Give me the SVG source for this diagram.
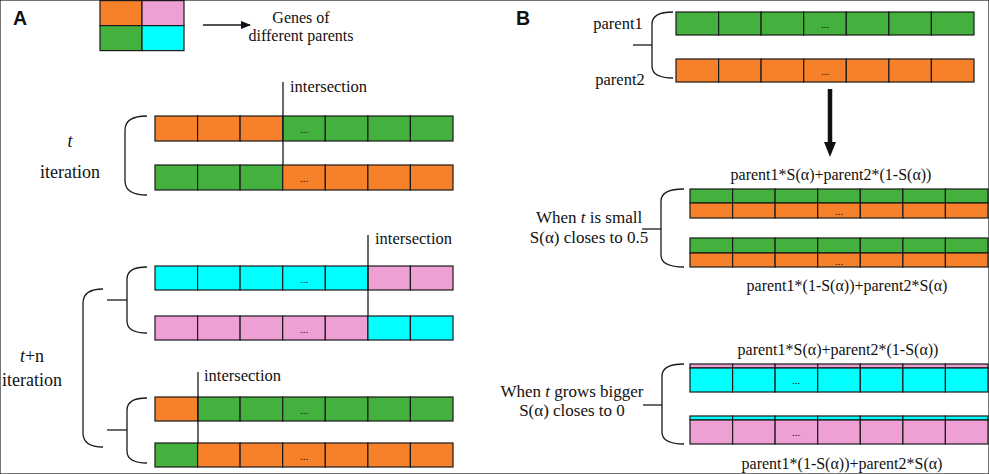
<svg xmlns="http://www.w3.org/2000/svg" width="989" height="474" viewBox="0 0 989 474">
<defs>
<style>
.o{fill:#F7802A}.p{fill:#EE9FD4}.g{fill:#44B13E}.c{fill:#00FFFF}
rect{stroke:#1a1a1a;stroke-width:1.2}
.t{font-family:"Liberation Serif","Times New Roman",serif;fill:#111}
.d{font-family:"Liberation Serif",serif;font-size:11px;fill:#111;text-anchor:middle}
.br{fill:none;stroke:#1a1a1a;stroke-width:1.3}
.ln{stroke:#1a1a1a;stroke-width:1.3;fill:none}
.h{font-family:"Liberation Sans",Arial,sans-serif;font-weight:bold;font-size:19.5px;fill:#111}
</style>
<marker id="ah" markerWidth="10" markerHeight="8" refX="9" refY="4" orient="auto" markerUnits="userSpaceOnUse">
<path d="M0,0 L10,4 L0,8 Z" fill="#111"/>
</marker>
</defs>
<rect x="0" y="0" width="989" height="474" fill="#fff" stroke="none"/>

<text class="h" x="13" y="25">A</text>
<text class="h" x="516" y="25">B</text>

<g id="legend">
<rect class="o" x="100" y="0.6" width="42" height="25"/>
<rect class="p" x="142" y="0.6" width="42" height="25"/>
<rect class="g" x="100" y="25.6" width="42" height="25"/>
<rect class="c" x="142" y="25.6" width="42" height="25"/>
<text class="t" x="301" y="23" font-size="16" text-anchor="middle">Genes of</text>
<text class="t" x="301" y="41" font-size="16" text-anchor="middle">different parents</text>
</g>

<g id="rowA1">
<rect class="o" x="155" y="116" width="42.6" height="25"/>
<rect class="o" x="197.6" y="116" width="42.5" height="25"/>
<rect class="o" x="240.1" y="116" width="42.6" height="25"/>
<rect class="g" x="282.7" y="116" width="42.6" height="25"/>
<rect class="g" x="325.3" y="116" width="42.6" height="25"/>
<rect class="g" x="367.9" y="116" width="42.5" height="25"/>
<rect class="g" x="410.4" y="116" width="42.6" height="25"/>
<text class="d" x="304" y="133">...</text>
</g>
<g id="rowA2">
<rect class="g" x="155" y="165" width="42.6" height="25"/>
<rect class="g" x="197.6" y="165" width="42.5" height="25"/>
<rect class="g" x="240.1" y="165" width="42.6" height="25"/>
<rect class="o" x="282.7" y="165" width="42.6" height="25"/>
<rect class="o" x="325.3" y="165" width="42.6" height="25"/>
<rect class="o" x="367.9" y="165" width="42.5" height="25"/>
<rect class="o" x="410.4" y="165" width="42.6" height="25"/>
<text class="d" x="304" y="182">...</text>
</g>
<g id="rowA3">
<rect class="c" x="155" y="266" width="42.6" height="24"/>
<rect class="c" x="197.6" y="266" width="42.5" height="24"/>
<rect class="c" x="240.1" y="266" width="42.6" height="24"/>
<rect class="c" x="282.7" y="266" width="42.6" height="24"/>
<rect class="c" x="325.3" y="266" width="42.6" height="24"/>
<rect class="p" x="367.9" y="266" width="42.5" height="24"/>
<rect class="p" x="410.4" y="266" width="42.6" height="24"/>
<text class="d" x="304" y="283">...</text>
</g>
<g id="rowA4">
<rect class="p" x="155" y="316" width="42.6" height="24"/>
<rect class="p" x="197.6" y="316" width="42.5" height="24"/>
<rect class="p" x="240.1" y="316" width="42.6" height="24"/>
<rect class="p" x="282.7" y="316" width="42.6" height="24"/>
<rect class="p" x="325.3" y="316" width="42.6" height="24"/>
<rect class="c" x="367.9" y="316" width="42.5" height="24"/>
<rect class="c" x="410.4" y="316" width="42.6" height="24"/>
<text class="d" x="304" y="333">...</text>
</g>
<g id="rowA5">
<rect class="o" x="155" y="397" width="42.6" height="24"/>
<rect class="g" x="197.6" y="397" width="42.5" height="24"/>
<rect class="g" x="240.1" y="397" width="42.6" height="24"/>
<rect class="g" x="282.7" y="397" width="42.6" height="24"/>
<rect class="g" x="325.3" y="397" width="42.6" height="24"/>
<rect class="g" x="367.9" y="397" width="42.5" height="24"/>
<rect class="g" x="410.4" y="397" width="42.6" height="24"/>
<text class="d" x="304" y="414">...</text>
</g>
<g id="rowA6">
<rect class="g" x="155" y="443" width="42.6" height="24"/>
<rect class="o" x="197.6" y="443" width="42.5" height="24"/>
<rect class="o" x="240.1" y="443" width="42.6" height="24"/>
<rect class="o" x="282.7" y="443" width="42.6" height="24"/>
<rect class="o" x="325.3" y="443" width="42.6" height="24"/>
<rect class="o" x="367.9" y="443" width="42.5" height="24"/>
<rect class="o" x="410.4" y="443" width="42.6" height="24"/>
<text class="d" x="304" y="460">...</text>
</g>

<g id="labelsA">
<text class="t" x="70" y="147" font-size="18" font-style="italic" text-anchor="middle">t</text>
<text class="t" x="70" y="178" font-size="18" text-anchor="middle">iteration</text>
<text class="t" x="32" y="362" font-size="18" text-anchor="middle"><tspan font-style="italic">t</tspan>+n</text>
<text class="t" x="32" y="386" font-size="18" text-anchor="middle">iteration</text>
<text class="t" x="290" y="92" font-size="16.5">intersection</text>
<text class="t" x="375" y="244" font-size="16.5">intersection</text>
<text class="t" x="204" y="381" font-size="16.5">intersection</text>
</g>

<g id="rowB1">
<rect class="g" x="676" y="12" width="42.6" height="23"/>
<rect class="g" x="718.6" y="12" width="42.5" height="23"/>
<rect class="g" x="761.1" y="12" width="42.6" height="23"/>
<rect class="g" x="803.7" y="12" width="42.6" height="23"/>
<rect class="g" x="846.3" y="12" width="42.6" height="23"/>
<rect class="g" x="888.9" y="12" width="42.5" height="23"/>
<rect class="g" x="931.4" y="12" width="42.6" height="23"/>
<text class="d" x="825" y="28">...</text>
</g>
<g id="rowB2">
<rect class="o" x="676" y="59" width="42.6" height="23"/>
<rect class="o" x="718.6" y="59" width="42.5" height="23"/>
<rect class="o" x="761.1" y="59" width="42.6" height="23"/>
<rect class="o" x="803.7" y="59" width="42.6" height="23"/>
<rect class="o" x="846.3" y="59" width="42.6" height="23"/>
<rect class="o" x="888.9" y="59" width="42.5" height="23"/>
<rect class="o" x="931.4" y="59" width="42.6" height="23"/>
<text class="d" x="825" y="75">...</text>
</g>
<g id="rowB3">
<rect class="g" x="690" y="189" width="42.6" height="14"/>
<rect class="g" x="732.6" y="189" width="42.5" height="14"/>
<rect class="g" x="775.1" y="189" width="42.6" height="14"/>
<rect class="g" x="817.7" y="189" width="42.6" height="14"/>
<rect class="g" x="860.3" y="189" width="42.6" height="14"/>
<rect class="g" x="902.9" y="189" width="42.5" height="14"/>
<rect class="g" x="945.4" y="189" width="42.6" height="14"/>
<rect class="o" x="690" y="203" width="42.6" height="15"/>
<rect class="o" x="732.6" y="203" width="42.5" height="15"/>
<rect class="o" x="775.1" y="203" width="42.6" height="15"/>
<rect class="o" x="817.7" y="203" width="42.6" height="15"/>
<rect class="o" x="860.3" y="203" width="42.6" height="15"/>
<rect class="o" x="902.9" y="203" width="42.5" height="15"/>
<rect class="o" x="945.4" y="203" width="42.6" height="15"/>
<text class="d" x="839" y="215">...</text>
</g>
<g id="rowB4">
<rect class="g" x="690" y="238" width="42.6" height="15"/>
<rect class="g" x="732.6" y="238" width="42.5" height="15"/>
<rect class="g" x="775.1" y="238" width="42.6" height="15"/>
<rect class="g" x="817.7" y="238" width="42.6" height="15"/>
<rect class="g" x="860.3" y="238" width="42.6" height="15"/>
<rect class="g" x="902.9" y="238" width="42.5" height="15"/>
<rect class="g" x="945.4" y="238" width="42.6" height="15"/>
<rect class="o" x="690" y="253" width="42.6" height="14"/>
<rect class="o" x="732.6" y="253" width="42.5" height="14"/>
<rect class="o" x="775.1" y="253" width="42.6" height="14"/>
<rect class="o" x="817.7" y="253" width="42.6" height="14"/>
<rect class="o" x="860.3" y="253" width="42.6" height="14"/>
<rect class="o" x="902.9" y="253" width="42.5" height="14"/>
<rect class="o" x="945.4" y="253" width="42.6" height="14"/>
<text class="d" x="839" y="265">...</text>
</g>
<g id="rowB5">
<rect class="p" x="690" y="364" width="42.6" height="4"/>
<rect class="p" x="732.6" y="364" width="42.5" height="4"/>
<rect class="p" x="775.1" y="364" width="42.6" height="4"/>
<rect class="p" x="817.7" y="364" width="42.6" height="4"/>
<rect class="p" x="860.3" y="364" width="42.6" height="4"/>
<rect class="p" x="902.9" y="364" width="42.5" height="4"/>
<rect class="p" x="945.4" y="364" width="42.6" height="4"/>
<rect class="c" x="690" y="368" width="42.6" height="24"/>
<rect class="c" x="732.6" y="368" width="42.5" height="24"/>
<rect class="c" x="775.1" y="368" width="42.6" height="24"/>
<rect class="c" x="817.7" y="368" width="42.6" height="24"/>
<rect class="c" x="860.3" y="368" width="42.6" height="24"/>
<rect class="c" x="902.9" y="368" width="42.5" height="24"/>
<rect class="c" x="945.4" y="368" width="42.6" height="24"/>
<text class="d" x="796" y="384">...</text>
</g>
<g id="rowB6">
<rect class="c" x="690" y="416" width="42.6" height="4"/>
<rect class="c" x="732.6" y="416" width="42.5" height="4"/>
<rect class="c" x="775.1" y="416" width="42.6" height="4"/>
<rect class="c" x="817.7" y="416" width="42.6" height="4"/>
<rect class="c" x="860.3" y="416" width="42.6" height="4"/>
<rect class="c" x="902.9" y="416" width="42.5" height="4"/>
<rect class="c" x="945.4" y="416" width="42.6" height="4"/>
<rect class="p" x="690" y="420" width="42.6" height="24"/>
<rect class="p" x="732.6" y="420" width="42.5" height="24"/>
<rect class="p" x="775.1" y="420" width="42.6" height="24"/>
<rect class="p" x="817.7" y="420" width="42.6" height="24"/>
<rect class="p" x="860.3" y="420" width="42.6" height="24"/>
<rect class="p" x="902.9" y="420" width="42.5" height="24"/>
<rect class="p" x="945.4" y="420" width="42.6" height="24"/>
<text class="d" x="796" y="436">...</text>
</g>

<g id="labelsB">
<text class="t" x="618" y="29" font-size="16.5" text-anchor="middle">parent1</text>
<text class="t" x="620" y="85" font-size="16.5" text-anchor="middle">parent2</text>
<text class="t" x="831" y="180" font-size="16" text-anchor="middle">parent1*S(α)+parent2*(1-S(α))</text>
<text class="t" x="847" y="291" font-size="16" text-anchor="middle">parent1*(1-S(α))+parent2*S(α)</text>
<text class="t" x="838" y="355" font-size="16" text-anchor="middle">parent1*S(α)+parent2*(1-S(α))</text>
<text class="t" x="842" y="469" font-size="16" text-anchor="middle">parent1*(1-S(α))+parent2*S(α)</text>
<text class="t" x="589" y="223" font-size="17" text-anchor="middle">When <tspan font-style="italic">t</tspan> is small</text>
<text class="t" x="589" y="243" font-size="17" text-anchor="middle">S(α) closes to 0.5</text>
<text class="t" x="572" y="397" font-size="17" text-anchor="middle">When <tspan font-style="italic">t</tspan> grows bigger</text>
<text class="t" x="572" y="416" font-size="17" text-anchor="middle">S(α) closes to 0</text>
</g>

<g id="connectors">
<line class="ln" x1="203" y1="25" x2="250" y2="25" marker-end="url(#ah)"/>
<line class="ln" x1="283" y1="82" x2="283" y2="165"/>
<line class="ln" x1="368" y1="235" x2="368" y2="316"/>
<line class="ln" x1="198" y1="372" x2="198" y2="443"/>
<path class="br" d="M147,116 Q125,116 125,130 L125,181 Q125,195 147,195"/>
<path class="br" d="M147,267 Q127,267 127,279 L127,321 Q127,333 147,333"/>
<line class="ln" x1="107" y1="300" x2="127" y2="300"/>
<path class="br" d="M147,398 Q127,398 127,410 L127,451 Q127,463 147,463"/>
<line class="ln" x1="107" y1="430" x2="127" y2="430"/>
<path class="br" d="M103,289 Q83,289 83,303 L83,433 Q83,447 103,447"/>
<path class="br" d="M673,12 Q652,12 652,24 L652,66 Q652,78 673,78"/>
<line class="ln" x1="633" y1="45" x2="652" y2="45"/>
<line x1="830" y1="89" x2="830" y2="143" stroke="#111" stroke-width="4.5"/>
<path d="M824,142 L836,142 L830,157 Z" fill="#111"/>
<path class="br" d="M684,189 Q661,189 661,201 L661,255 Q661,267 684,267"/>
<line class="ln" x1="642" y1="229" x2="661" y2="229"/>
<path class="br" d="M684,364 Q662,364 662,376 L662,432 Q662,444 684,444"/>
<line class="ln" x1="643" y1="405" x2="662" y2="405"/>
</g>
</svg>
